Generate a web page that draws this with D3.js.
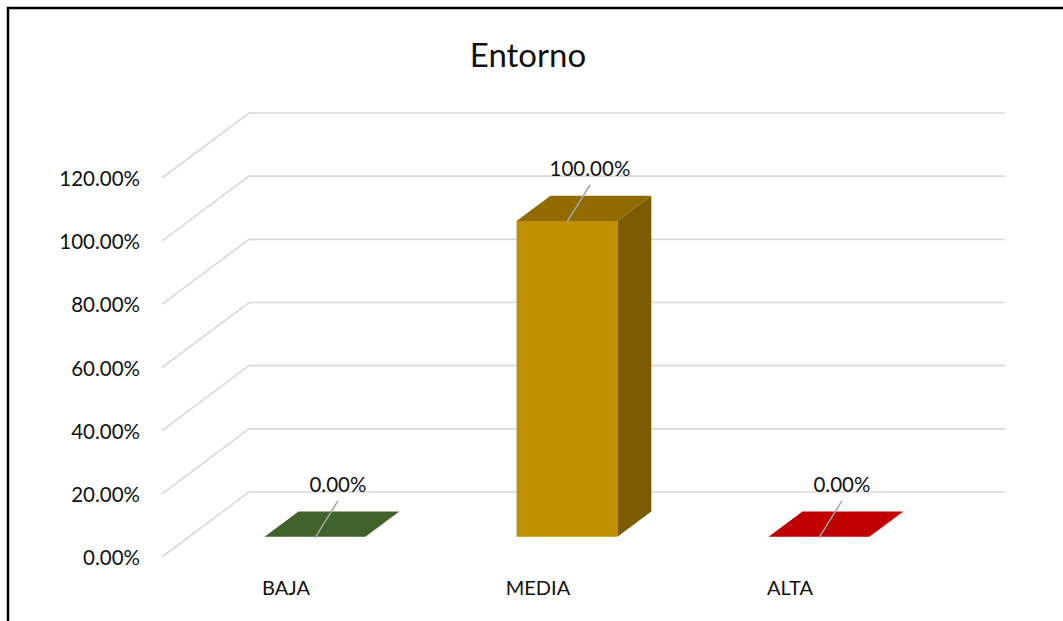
<!DOCTYPE html>
<html>
<head>
<meta charset="utf-8">
<script src="https://cdn.jsdelivr.net/npm/d3@7/dist/d3.min.js"></script>
<style>
  html, body { margin: 0; padding: 0; background: #fff; }
  svg { display: block; font-family: Lato, "Open Sans", sans-serif; }
</style>
</head>
<body>
<svg id="chart" width="1063" height="621"></svg>
<script>
// ---- data ----
const categories = ["BAJA", "MEDIA", "ALTA"];
const values = [0, 1.0, 0];
const barColors = ["#41622b", "#bf8f00", "#c00000"];
const topColors = ["#41622b", "#8f6b00", "#c00000"];
const sideColors = ["#41622b", "#7a5b00", "#c00000"];
const yTicks = [0, 0.2, 0.4, 0.6, 0.8, 1.0, 1.2];
const title = "Entorno";

// ---- layout ----
const W = 1063, H = 621;
const svg = d3.select("#chart");
const depthX = 87, depthY = 65;          // projection of full depth (front -> back)
const barZ0 = 0.31, barZ1 = 0.70;        // bar occupies this slice of the depth

const y = d3.scaleLinear().domain([0, 1.2]).range([557, 178]); // front plane
const x = d3.scaleBand().domain(categories).range([162, 918])
  .paddingInner(0.6).paddingOuter(0.3);

const P = (px, v, z) => [px + z * depthX, y(v) - z * depthY];
const fmt = d3.format(".2%");

// frame
svg.append("rect").attr("x", 8).attr("y", 8).attr("width", W + 20).attr("height", H + 20)
  .attr("fill", "none").attr("stroke", "#000").attr("stroke-width", 2.5);

// title
svg.append("text").attr("x", 528).attr("y", 67).attr("text-anchor", "middle")
  .attr("font-size", 33).attr("fill", "#111").text(title);

// gridlines: side wall diagonals + back wall horizontals
const grid = svg.append("g").attr("stroke", "#d9d9d9").attr("stroke-width", 1.6).attr("fill", "none");
yTicks.forEach(t => {
  const a = P(162, t, 0), b = P(162, t, 1), c = P(918, t, 1);
  grid.append("path").attr("d", d3.line()([a, b, c]));
});

// y tick labels
svg.append("g").selectAll("text").data(yTicks).join("text")
  .attr("x", 140).attr("y", d => y(d) + 8).attr("text-anchor", "end")
  .attr("font-size", 20.5).attr("fill", "#111").text(d => fmt(d));

// bars
const bars = svg.append("g");
categories.forEach((c, i) => {
  const x0 = x(c) + barZ0 * depthX, x1 = x0 + x.bandwidth();
  const v = values[i];
  const fl = [x(c), 0, barZ0], fr = [x(c) + x.bandwidth(), 0, barZ0];
  const p = (px, vv, z) => P(px, vv, z);
  const xl = x(c), xr = x(c) + x.bandwidth();
  const line = d3.line();
  // side (right)
  if (v > 0) {
    bars.append("path").attr("fill", sideColors[i])
      .attr("d", line([p(xr, 0, barZ0), p(xr, 0, barZ1), p(xr, v, barZ1), p(xr, v, barZ0)]) + "Z");
    // front
    bars.append("path").attr("fill", barColors[i])
      .attr("d", line([p(xl, 0, barZ0), p(xr, 0, barZ0), p(xr, v, barZ0), p(xl, v, barZ0)]) + "Z");
  }
  // top
  bars.append("path").attr("fill", topColors[i])
    .attr("d", line([p(xl, v, barZ0), p(xr, v, barZ0), p(xr, v, barZ1), p(xl, v, barZ1)]) + "Z");

  // data label with leader line
  const [cx, cy] = p(xl + x.bandwidth() / 2, v, barZ0);
  const lx = cx + 23, ly = cy - 53;
  bars.append("line").attr("x1", lx).attr("y1", ly + 17).attr("x2", cx).attr("y2", cy + 1)
    .attr("stroke", "#a6a6a6").attr("stroke-width", 1.5);
  bars.append("text").attr("x", lx).attr("y", ly + 8).attr("text-anchor", "middle")
    .attr("font-size", 20.5).attr("fill", "#111").text(fmt(v));

  // category label (front plane)
  svg.append("text").attr("x", xl + x.bandwidth() / 2 - 2).attr("y", 595).attr("text-anchor", "middle")
    .attr("font-size", 20).attr("fill", "#111").text(c);
});
</script>
</body>
</html>
